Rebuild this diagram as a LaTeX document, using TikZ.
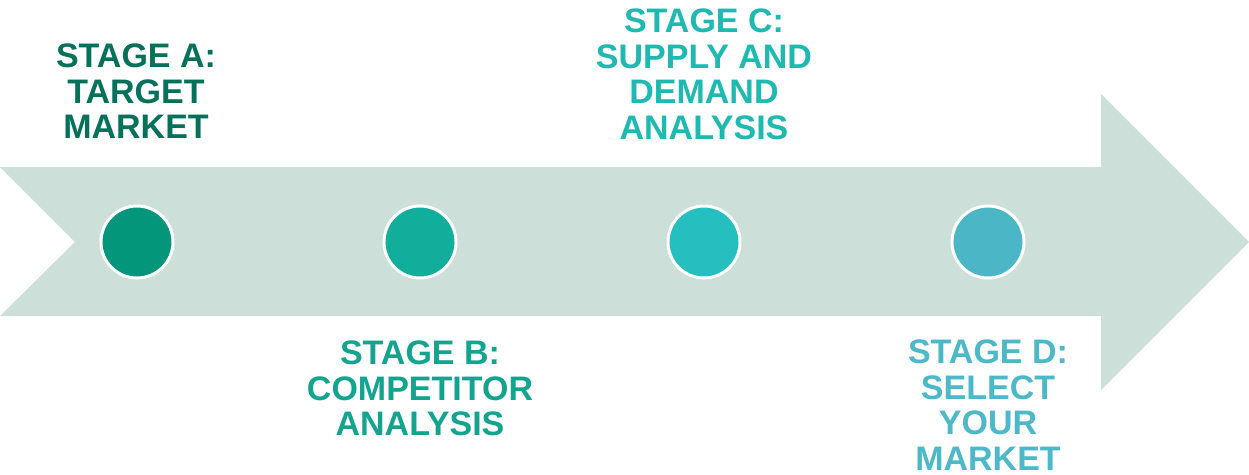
\documentclass[tikz,border=0pt]{standalone}
\usepackage{fontspec}
\setmainfont{Liberation Sans}
\definecolor{arrowfill}{HTML}{CCDFD9}
\definecolor{dotA}{HTML}{03967A}
\definecolor{dotB}{HTML}{12AE9C}
\definecolor{dotC}{HTML}{26BFC0}
\definecolor{dotD}{HTML}{4AB6C6}
\definecolor{txtA}{HTML}{06715A}
\definecolor{txtB}{HTML}{13A48F}
\definecolor{txtC}{HTML}{1EB9B1}
\definecolor{txtD}{HTML}{4CB8C8}
\tikzset{
  stagedot/.style={circle, minimum size=72pt, inner sep=0pt, draw=white, line width=3pt},
  stagelabel/.style={anchor=north, inner sep=0pt, align=center,
    font=\bfseries\fontsize{34}{35.5}\selectfont}
}
\begin{document}
\begin{tikzpicture}[x=1pt,y=-1pt]
  \useasboundingbox (0,0) rectangle (1249,474);
  % chevron-tailed arrow band
  \fill[arrowfill] (0,167) -- (1101,167) -- (1101,94) -- (1249,242)
    -- (1101,390) -- (1101,316) -- (0,316) -- (75,242) -- cycle;
  % stage markers
  \node[stagedot, fill=dotA] (dA) at (137,242) {};
  \node[stagedot, fill=dotB] (dB) at (420,242) {};
  \node[stagedot, fill=dotC] (dC) at (704,242) {};
  \node[stagedot, fill=dotD] (dD) at (988,242) {};
  % stage captions
  \node[stagelabel, text=txtA] (lA) at (136,44) {STAGE A:\\TARGET\\MARKET};
  \node[stagelabel, text=txtB] (lB) at (420,341) {STAGE B:\\COMPETITOR\\ANALYSIS};
  \node[stagelabel, text=txtC] (lC) at (704,9) {STAGE C:\\SUPPLY AND\\DEMAND\\ANALYSIS};
  \node[stagelabel, text=txtD] (lD) at (988,340) {STAGE D:\\SELECT\\YOUR\\MARKET};
\end{tikzpicture}
\end{document}
